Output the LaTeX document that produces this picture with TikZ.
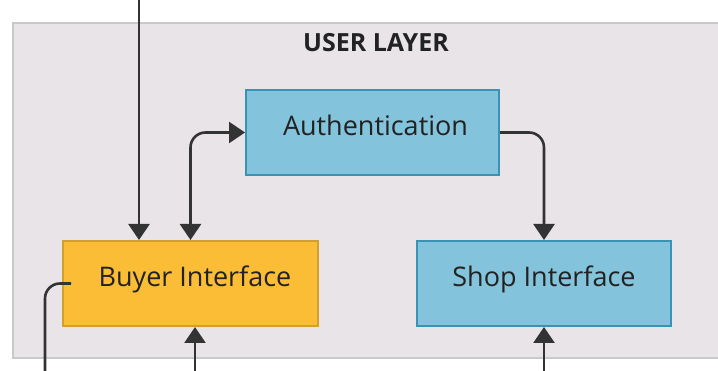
\documentclass[tikz,border=0pt]{standalone}
\usepackage{fontspec}
\setmainfont{Open Sans}
\usetikzlibrary{arrows.meta}
\definecolor{layerfill}{HTML}{E8E4E8}
\definecolor{layerline}{HTML}{C9C9C9}
\definecolor{bluefill}{HTML}{83C4DC}
\definecolor{blueline}{HTML}{3A92B4}
\definecolor{orangefill}{HTML}{FBBD35}
\definecolor{orangeline}{HTML}{D2A02E}
\definecolor{wire}{HTML}{333333}
\definecolor{ink}{HTML}{222222}
\begin{document}
\begin{tikzpicture}[x=1pt,y=-1pt,
  box/.style={draw, line width=2pt, minimum height=85pt, inner sep=0pt,
    text height=19pt, text depth=12pt,
    font=\fontsize{27}{31}\selectfont, text=ink},
  bluebox/.style={box, fill=bluefill, draw=blueline},
  orangebox/.style={box, fill=orangefill, draw=orangeline},
  wirestyle/.style={draw=wire, line width=2.6pt, rounded corners=15pt},
  tip/.style={wirestyle, -{Triangle[length=16pt,width=21pt]}},
  twotips/.style={wirestyle, {Triangle[length=16pt,width=21pt]}-{Triangle[length=16pt,width=21pt]}}]
\useasboundingbox (0,0) rectangle (718,371);
% layer panel, running off the right edge
\fill[layerfill] (13,23) rectangle (722,358);
\draw[layerline, line width=2pt] (722,23) -- (13,23) -- (13,358) -- (722,358);
\node[font=\fontsize{25}{29}\selectfont\bfseries, text=ink, anchor=base, inner sep=0pt] (title) at (376,52) {USER LAYER};
% components (labels nudged right a little)
\node[bluebox, minimum width=253pt] (auth) at (372.5,132.5) {\hspace*{6pt}Authentication};
\node[orangebox, minimum width=255pt] (buyer) at (190.5,283.5) {\hspace*{9pt}Buyer Interface};
\node[bluebox, minimum width=254pt] (shop) at (544,283.5) {Shop Interface};
% free ends of outside connectors
\coordinate (topin) at (139,-2);
\coordinate (buyerin) at (195,373);
\coordinate (shopin) at (544,373);
\coordinate (buyerout) at ([xshift=9pt]buyer.west);
\coordinate (downout) at (45,373);
% connectors
\draw[tip] (topin) -- (topin |- buyer.north);
\draw[twotips] (buyer.north) |- (auth.west);
\draw[tip] (auth.east) -| (shop.north);
\draw[wirestyle] (buyerout) -| (downout);
\draw[tip] (buyerin) -- (buyerin |- buyer.south);
\draw[tip] (shopin) -- (shop.south);
\end{tikzpicture}
\end{document}
